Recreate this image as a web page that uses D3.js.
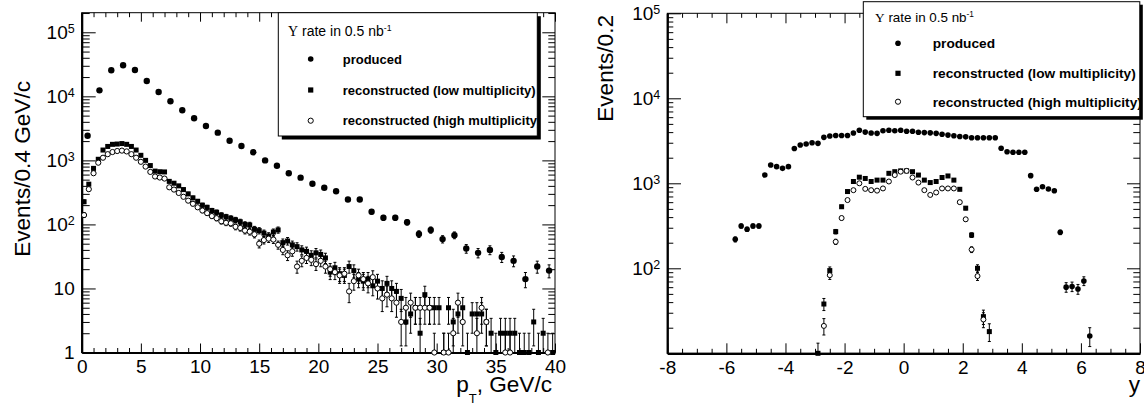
<!DOCTYPE html>
<html><head><meta charset="utf-8">
<script src="https://cdn.jsdelivr.net/npm/d3@7"></script>
<style>
body{margin:0;background:#fff;}
svg{display:block;font-family:"Liberation Sans",Arial,Helvetica,sans-serif;}
</style></head><body>
<svg id="c" width="1144" height="406"></svg>
<script>
// ---------------- DATA ----------------
// Left panel: pT spectra
const ptProdBinStart = 0.5, ptProdBinWidth = 1.0;   // produced: 1 GeV/c bins
const ptRecoBinStart = 0.2, ptRecoBinWidth = 0.4;   // reconstructed: 0.4 GeV/c bins
const ptProduced = [2430, 12400, 25500, 30500, 25800, 17400, 11700, 8370, 6050, 4540,
  3440, 2710, 2030, 1680, 1340, 1000, 826, 629, 537, 432,
  374, 329, 245, 245, 158, 127, 127, 108, 71, 82,
  59, 68, 42, 36, 40, 31, 27, 14, 22, 19];
const ptRecoLow = [226, 425, 750, 1040, 1450, 1650, 1780, 1800, 1830, 1780,
  1650, 1450, 1200, 1000, 830, 680, 665, 660, 470, 440,
  400, 350, 300, 260, 230, 200, 185, 165, 155, 140,
  132, 125, 118, 110, 100, 98, 84, 80, 73, 66,
  76, 82, 52, 55, 48, 45, 40, 38, 33, 36,
  34, 30, 18, 21, 17, 16, 22, 19, 14, 13,
  14, 11, 13, 10, 12, 10, 9, 7, 3, 4,
  5, 2, 8, 5, 5, 5, 1, 5, 3, 4,
  5, 1, 4, 4, 4, 3, 2, 1, 2, 2,
  2, 2, 1, 1, 1, 3, 1, 2, 0, 1];
const ptRecoHigh = [140, 355, 630, 920, 1100, 1250, 1350, 1400, 1420, 1380,
  1250, 1100, 950, 800, 660, 560, 540, 520, 380, 350,
  310, 270, 235, 210, 185, 165, 150, 135, 125, 112,
  106, 104, 92, 88, 80, 77, 70, 50, 57, 60,
  58, 48, 40, 33, 38, 22, 27, 30, 28, 24,
  27, 22, 20, 18, 16, 17, 9, 13, 16, 14,
  12, 15, 10, 7, 8, 7, 6, 3, 5, 6,
  5, 5, 5, 5, 1, 0, 1, 1, 2, 6,
  3, 0, 0, 2, 5, 3, 0, 0, 0, 1,
  1, 0, 0, 0, 0, 0, 0, 0, 1, 0];

// Right panel: rapidity spectra
const yProdBinStart = -5.7, yRecoBinStart = -2.9, yBinWidth = 0.2;
const yProduced = [219, 315, 288, 315, 315, 1250, 1640, 1570, 1500, 1570,
  2570, 2820, 2900, 3000, 2950, 3470, 3600, 3650, 3650, 3650,
  3900, 4200, 4000, 3900, 3870, 4150, 4200, 4150, 4200, 4100,
  4100, 3980, 3950, 3920, 3870, 3780, 3690, 3620, 3550, 3520,
  3440, 3440, 3440, 3440, 3440, 2580, 2350, 2320, 2320, 2320,
  1230, 850, 910, 857, 818, 265, 60, 61, 57, 71,
  16];
const yRecoLow = [10, 38, 94, 270, 530, 800, 1050, 1180, 1140, 1050,
  1090, 1090, 1310, 1370, 1400, 1400, 1370, 1250, 1090, 1020,
  1050, 1170, 1220, 1090, 850, 510, 246, 100, 27, 18];
const yRecoHigh = [0, 21, 83, 205, 390, 635, 830, 1000, 860, 830,
  820, 870, 1050, 1250, 1370, 1400, 1170, 1020, 830, 730,
  780, 870, 870, 870, 600, 377, 166, 81, 25, 0];

// Axis ticks / labels
const ptMajorTicks = [0, 5, 10, 15, 20, 25, 30, 35, 40];
const ptMinorStep = 1;
const rapMajorTicks = [-8, -6, -4, -2, 0, 2, 4, 6, 8];
const rapMinorStep = 0.5;
const leftDecades = [1, 10, 100, 1000, 10000, 100000];
const leftLabelled = [1, 10, 100, 1000, 10000, 100000];
const rightDecades = [10, 100, 1000, 10000, 100000];
const rightLabelled = [100, 1000, 10000, 100000];
const legendTitle = "rate in 0.5 nb";
const legendEntries = ["produced", "reconstructed (low multiplicity)", "reconstructed (high multiplicity)"];

// ---------------- DRAWING ----------------
const svg = d3.select("#c");
const FONT = '"Liberation Sans",Arial,Helvetica,sans-serif';

function minorRange(a, b, step, majors) {
  const out = [];
  for (let i = 0; a + i * step <= b + 1e-9; i++) {
    const v = +(a + i * step).toFixed(6);
    if (!majors.some(m => Math.abs(m - v) < 1e-9)) out.push(v);
  }
  return out;
}
function logMinors(lo, hi) {
  const out = [];
  for (let e = Math.floor(Math.log10(lo)); e <= Math.ceil(Math.log10(hi)); e++)
    for (let k = 2; k <= 9; k++) { const v = k * Math.pow(10, e); if (v > lo && v < hi) out.push(v); }
  return out;
}
function pts(values, start, width) {
  return values.map((v, i) => ({ x: start + i * width, v })).filter(d => d.v > 0);
}

function drawPanel(o) {
  const g = svg.append("g");
  const x = o.x, y = o.y;
  const [X0, X1] = x.range();
  const [Y0, Y1] = y.range();
  const [ylo, yhi] = y.domain();

  // frame
  g.append("rect").attr("x", X0).attr("y", Y1).attr("width", X1 - X0).attr("height", Y0 - Y1)
    .attr("fill", "none").attr("stroke", "#000").attr("stroke-width", 1);

  const styleAxis = sel => sel.attr("font-family", FONT).attr("font-size", o.tickFont);

  // bottom axis
  const axB = g.append("g").attr("transform", `translate(0,${Y0})`)
    .call(d3.axisBottom(x).tickValues(o.xMajor).tickSize(-o.xMaj).tickSizeOuter(0)
      .tickPadding(o.xPad).tickFormat(d => String(d)));
  styleAxis(axB);
  axB.select(".domain").attr("stroke-width", 2.2);
  g.append("g").attr("transform", `translate(0,${Y0})`)
    .call(d3.axisBottom(x).tickValues(o.xMinor).tickSize(-o.xMin).tickFormat(""))
    .call(s => s.select(".domain").remove());
  // top axis
  g.append("g").attr("transform", `translate(0,${Y1})`)
    .call(d3.axisTop(x).tickValues(o.xMajor).tickSize(-o.xMaj).tickFormat(""))
    .call(s => s.select(".domain").remove());
  g.append("g").attr("transform", `translate(0,${Y1})`)
    .call(d3.axisTop(x).tickValues(o.xMinor).tickSize(-o.xMin).tickFormat(""))
    .call(s => s.select(".domain").remove());

  // left axis
  const axL = g.append("g").attr("transform", `translate(${X0},0)`)
    .call(d3.axisLeft(y).tickValues(o.yMajor).tickSize(-o.yMajL).tickSizeOuter(0)
      .tickPadding(o.yPad).tickFormat(() => ""));
  styleAxis(axL);
  axL.select(".domain").attr("stroke-width", 2.2);
  axL.selectAll(".tick text").each(function (d) {
    if (!o.yLabelled.includes(d)) return;
    const t = d3.select(this);
    const e = Math.round(Math.log10(d));
    if (e >= 2) {
      t.text("10");
      t.append("tspan").attr("font-size", 12.5).attr("dy", -6).text(String(e));
    } else t.text(String(d));
  });
  g.append("g").attr("transform", `translate(${X0},0)`)
    .call(d3.axisLeft(y).tickValues(o.yMinor).tickSize(-o.yMinL).tickFormat(""))
    .call(s => s.select(".domain").remove());
  // right axis ticks
  g.append("g").attr("transform", `translate(${X1},0)`)
    .call(d3.axisRight(y).tickValues(o.yMajor).tickSize(-o.yMajR).tickFormat(""))
    .call(s => s.select(".domain").remove());
  g.append("g").attr("transform", `translate(${X1},0)`)
    .call(d3.axisRight(y).tickValues(o.yMinor).tickSize(-o.yMinR).tickFormat(""))
    .call(s => s.select(".domain").remove());

  // data
  const yc = v => y(Math.min(Math.max(v, ylo), yhi));
  o.series.forEach(s => {
    const data = pts(s.values, s.start, s.width);
    const eg = g.append("g").attr("stroke", "#000").attr("stroke-width", 1);
    data.forEach(d => {
      const e = Math.sqrt(d.v);
      const ya = yc(d.v + e), yb = d.v - e > ylo ? y(d.v - e) : Y0;
      const cx = x(d.x);
      if (yb - ya > 0.5) {
        eg.append("line").attr("x1", cx).attr("x2", cx).attr("y1", ya).attr("y2", yb);
        eg.append("line").attr("x1", cx - 1.5).attr("x2", cx + 1.5).attr("y1", ya).attr("y2", ya);
        if (yb < Y0) eg.append("line").attr("x1", cx - 1.5).attr("x2", cx + 1.5).attr("y1", yb).attr("y2", yb);
      }
    });
    const mg = g.append("g");
    if (s.marker === "circle") {
      mg.selectAll("circle").data(data).join("circle")
        .attr("cx", d => x(d.x)).attr("cy", d => yc(d.v)).attr("r", s.size).attr("fill", "#000");
    } else if (s.marker === "square") {
      mg.selectAll("rect").data(data).join("rect")
        .attr("x", d => x(d.x) - s.size / 2).attr("y", d => yc(d.v) - s.size / 2)
        .attr("width", s.size).attr("height", s.size).attr("fill", "#000");
    } else {
      mg.selectAll("circle").data(data).join("circle")
        .attr("cx", d => x(d.x)).attr("cy", d => yc(d.v)).attr("r", s.size)
        .attr("fill", "#fff").attr("stroke", "#000").attr("stroke-width", 1);
    }
  });
  return g;
}

function drawLegend(L) {
  const g = svg.append("g");
  const id = "clip" + Math.round(L.x);
  svg.append("defs").append("clipPath").attr("id", id)
    .append("rect").attr("x", L.x).attr("y", L.y).attr("width", L.w).attr("height", L.h);
  g.append("rect").attr("x", L.x + L.sh).attr("y", L.y + L.sh).attr("width", L.w).attr("height", L.h).attr("fill", "#000");
  g.append("rect").attr("x", L.x).attr("y", L.y).attr("width", L.w).attr("height", L.h)
    .attr("fill", "#fff").attr("stroke", "#000").attr("stroke-width", 1);
  const c = g.append("g").attr("clip-path", `url(#${id})`);
  const t = c.append("text").attr("x", L.titleX).attr("y", L.titleY).attr("font-size", L.titleFont).attr("font-family", FONT);
  t.append("tspan").attr("font-family", '"Liberation Serif","Times New Roman",serif').text("\u03A5");
  t.append("tspan").text(" " + legendTitle);
  t.append("tspan").attr("font-size", L.titleFont * 0.62).attr("dy", -5).text("-1");
  const markers = ["circle", "square", "open"];
  legendEntries.forEach((lab, i) => {
    const my = L.rows[i];
    if (markers[i] === "circle") c.append("circle").attr("cx", L.mx).attr("cy", my).attr("r", 2.8).attr("fill", "#000");
    else if (markers[i] === "square") c.append("rect").attr("x", L.mx - 2.6).attr("y", my - 2.6).attr("width", 5.2).attr("height", 5.2).attr("fill", "#000");
    else c.append("circle").attr("cx", L.mx).attr("cy", my).attr("r", 2.6).attr("fill", "#fff").attr("stroke", "#000");
    c.append("text").attr("x", L.tx).attr("y", my + L.entryFont * 0.36).attr("font-size", L.entryFont)
      .attr("font-weight", "bold").attr("font-family", FONT).text(lab);
  });
}

// ---- Left panel ----
const xL = d3.scaleLinear().domain([0, 40]).range([81.7, 555]);
const yL = d3.scaleLog().domain([1, Math.pow(10, 5.306)]).range([352.5, 12.7]);
drawPanel({
  x: xL, y: yL, xMajor: ptMajorTicks, xMinor: minorRange(0, 40, ptMinorStep, ptMajorTicks),
  yMajor: leftDecades, yMinor: logMinors(1, Math.pow(10, 5.306)), yLabelled: leftLabelled,
  xMaj: 9, xMin: 4.5, yMajL: 14, yMinL: 8, yMajR: 12.7, yMinR: 6.7,
  xPad: 7, yPad: 7, tickFont: 19,
  series: [
    { values: ptProduced, start: ptProdBinStart, width: ptProdBinWidth, marker: "circle", size: 3.2 },
    { values: ptRecoLow, start: ptRecoBinStart, width: ptRecoBinWidth, marker: "square", size: 5 },
    { values: ptRecoHigh, start: ptRecoBinStart, width: ptRecoBinWidth, marker: "open", size: 2.6 }
  ]
});

// ---- Right panel ----
const xR = d3.scaleLinear().domain([-8, 8]).range([667.3, 1140]);
const yR = d3.scaleLog().domain([10, 100000]).range([353.3, 13.3]);
drawPanel({
  x: xR, y: yR, xMajor: rapMajorTicks, xMinor: minorRange(-8, 8, rapMinorStep, rapMajorTicks),
  yMajor: rightDecades, yMinor: logMinors(10, 100000), yLabelled: rightLabelled,
  xMaj: 10, xMin: 4.5, yMajL: 13.7, yMinL: 6, yMajR: 13, yMinR: 6.7,
  xPad: 7, yPad: 7, tickFont: 19,
  series: [
    { values: yProduced, start: yProdBinStart, width: yBinWidth, marker: "circle", size: 2.8 },
    { values: yRecoLow, start: yRecoBinStart, width: yBinWidth, marker: "square", size: 5 },
    { values: yRecoHigh, start: yRecoBinStart, width: yBinWidth, marker: "open", size: 2.5 }
  ]
});

// ---- Axis titles ----
svg.append("text").attr("transform", "translate(30,81) rotate(-90)").attr("text-anchor", "end")
  .attr("font-size", 22.6).text("Events/0.4 GeV/c");
svg.append("text").attr("transform", "translate(613,15) rotate(-90)").attr("text-anchor", "end")
  .attr("font-size", 22.6).text("Events/0.2");
const pt = svg.append("text").attr("x", 552).attr("y", 392).attr("text-anchor", "end").attr("font-size", 22.6);
pt.append("tspan").text("p");
pt.append("tspan").attr("font-size", 13).attr("dy", 11).text("T");
pt.append("tspan").attr("dy", -11).text(", GeV/c");
svg.append("text").attr("x", 1140).attr("y", 391.7).attr("text-anchor", "end").attr("font-size", 22.6).text("y");

// ---- Legends ----
drawLegend({ x: 278.3, y: 12.7, w: 259, h: 123.3, sh: 3.5, titleX: 288, titleY: 35.5, titleFont: 14,
  mx: 310.7, tx: 342.7, rows: [59, 90, 120.7], entryFont: 13 });
drawLegend({ x: 863.3, y: 1.7, w: 276.5, h: 115, sh: 3, titleX: 875, titleY: 22, titleFont: 13.4,
  mx: 898, tx: 932.7, rows: [43.3, 73.3, 101.7], entryFont: 13.7 });
</script>
</body></html>
